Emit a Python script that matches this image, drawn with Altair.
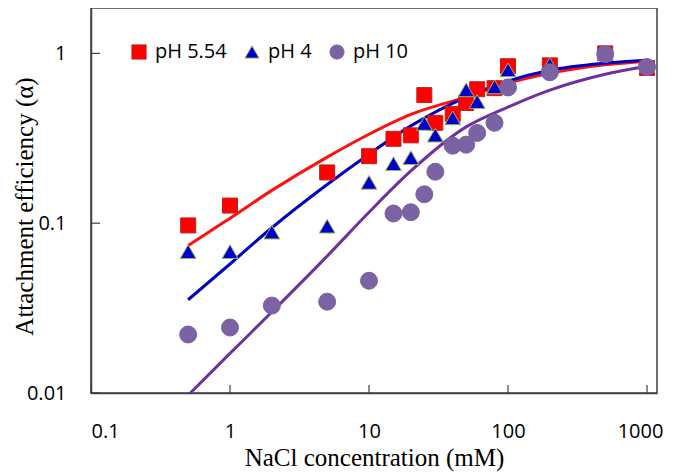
import altair as alt
import pandas as pd

# ---- data ----
series_names = ["pH 5.54", "pH 4", "pH 10"]

red_x = [0.5, 1, 5, 10, 15, 20, 25, 30, 40, 50, 60, 80, 100, 200, 500, 1000]
red_y = [0.097, 0.127, 0.199, 0.248, 0.314, 0.329, 0.568, 0.39, 0.44, 0.51, 0.615, 0.624, 0.84, 0.85, 1.0, 0.82]

blue_x = [0.5, 1, 2, 5, 10, 15, 20, 25, 30, 40, 50, 60, 80, 100, 200, 500, 1000]
blue_y = [0.068, 0.068, 0.0886, 0.096, 0.174, 0.224, 0.243, 0.387, 0.33, 0.417, 0.61, 0.52, 0.635, 0.80, 0.86, 1.0, 0.85]

purple_x = [0.5, 1, 2, 5, 10, 15, 20, 25, 30, 40, 50, 60, 80, 100, 200, 500, 1000]
purple_y = [0.0221, 0.0243, 0.0327, 0.0345, 0.0458, 0.114, 0.116, 0.148, 0.201, 0.286, 0.29, 0.34, 0.39, 0.63, 0.774, 0.99, 0.83]

fit_x = [0.5, 1, 2, 5, 10, 20, 50, 100, 200, 500, 1000]
red_fit = [0.074, 0.107, 0.156, 0.245, 0.334, 0.437, 0.553, 0.668, 0.764, 0.857, 0.90]
blue_fit = [0.0354, 0.0575, 0.094, 0.169, 0.255, 0.374, 0.553, 0.686, 0.795, 0.875, 0.91]
purple_fit = [0.0097, 0.0171, 0.030, 0.064, 0.116, 0.203, 0.369, 0.483, 0.608, 0.754, 0.84]

x_ticks = [0.1, 1, 10, 100, 1000]
y_ticks = [0.01, 0.1, 1]

point_fill = ["#ff0000", "#0000c8", "#7b62a3"]
point_stroke = ["#c02020", "#9bbb59", "#7b62a3"]
point_size = [225, 250, 289]
line_colors = ["#ff1010", "#0000c0", "#7030a0"]

# ---- tables ----
pts = pd.concat([
    pd.DataFrame({"x": red_x, "y": red_y, "series": series_names[0], "sz": point_size[0]}),
    pd.DataFrame({"x": blue_x, "y": blue_y, "series": series_names[1], "sz": point_size[1]}),
    pd.DataFrame({"x": purple_x, "y": purple_y, "series": series_names[2], "sz": point_size[2]}),
], ignore_index=True)

fits = pd.concat([
    pd.DataFrame({"x": fit_x, "y": red_fit, "series": series_names[0], "lc": line_colors[0], "o": 0}),
    pd.DataFrame({"x": fit_x, "y": blue_fit, "series": series_names[1], "lc": line_colors[1], "o": 1}),
    pd.DataFrame({"x": fit_x, "y": purple_fit, "series": series_names[2], "lc": line_colors[2], "o": 2}),
], ignore_index=True)

W, H = 566, 385
xscale = alt.Scale(type="log", domain=[0.1, 1180], nice=False)
yscale = alt.Scale(type="log", domain=[0.01, 1.85], nice=False)

xaxis = alt.Axis(values=x_ticks, format="~g", grid=False, ticks=False, tickSize=0, labelPadding=28,
                 labelOffset={"condition": {"test": "datum.value >= 1000", "value": -7}, "value": 0},
                 title="NaCl concentration (mM)", titleBaseline="alphabetic", titleY=72)
yaxis = alt.Axis(values=y_ticks, format="~g", grid=False, ticks=False, tickSize=0, labelPadding=25,
                 title="Attachment efficiency (α)", titleBaseline="alphabetic", titleX=-59, titleY=198,
                 titleAngle=270, titleAlign="center")

leg = alt.Legend(
    title=None, orient="none", legendX=38, legendY=34, direction="horizontal",
    symbolSize=200, labelFont="Open Sans", labelFontSize=20, labelColor="#000000",
    labelOffset=6, columnPadding=15, padding=0, symbolStrokeWidth=1,
)

lines = alt.Chart(fits).mark_line(strokeWidth=3, clip=True, interpolate="monotone").encode(
    x=alt.X("x:Q", scale=xscale, axis=xaxis),
    y=alt.Y("y:Q", scale=yscale, axis=yaxis),
    color=alt.Color("lc:N", scale=None),
    detail="series:N",
    order="o:Q",
)

points = alt.Chart(pts).mark_point(filled=True, opacity=1, strokeWidth=1, clip=True).encode(
    x=alt.X("x:Q", scale=xscale, axis=xaxis),
    y=alt.Y("y:Q", scale=yscale, axis=yaxis),
    shape=alt.Shape("series:N", scale=alt.Scale(domain=series_names, range=["square", "triangle-up", "circle"]), legend=leg),
    fill=alt.Fill("series:N", scale=alt.Scale(domain=series_names, range=point_fill), legend=leg),
    stroke=alt.Stroke("series:N", scale=alt.Scale(domain=series_names, range=point_stroke), legend=leg),
    size=alt.Size("sz:Q", scale=None),
)

xt = alt.Chart(pd.DataFrame({"x": x_ticks})).mark_rule(color="#404040", strokeWidth=1.2).encode(
    x=alt.X("x:Q", scale=xscale, axis=xaxis),
    y=alt.value(H), y2=alt.value(H - 8),
)
yt = alt.Chart(pd.DataFrame({"y": y_ticks})).mark_rule(color="#404040", strokeWidth=1.2).encode(
    y=alt.Y("y:Q", scale=yscale, axis=yaxis),
    x=alt.value(0), x2=alt.value(9),
)

chart = alt.layer(lines, points, xt, yt).properties(
    width=W, height=H,
    autosize=alt.AutoSizeParams(type="none"),
    padding={"left": 83, "top": 0, "right": 10, "bottom": 80},
).configure_view(
    stroke="#404040", strokeWidth=1.5,
).configure_axis(
    domainColor="#404040", domainWidth=1.5,
    labelFont="Open Sans", labelFontSize=20, labelColor="#000000",
    titleFont="Liberation Serif", titleFontSize=25, titleFontWeight="normal", titleColor="#000000",
)

chart.save("out.html", embed_options={"renderer": "svg", "actions": False})
